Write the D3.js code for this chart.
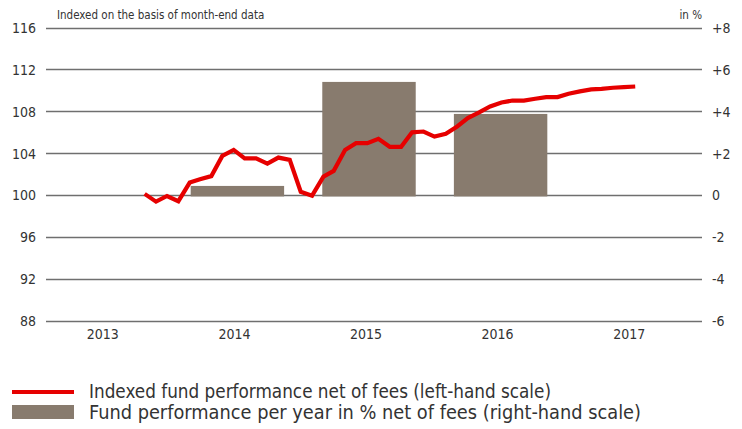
<!DOCTYPE html>
<html>
<head>
<meta charset="utf-8">
<script src="https://cdn.jsdelivr.net/npm/d3@7"></script>
<style>
  body { margin: 0; background: #fff; }
  svg text { font-family: "DejaVu Sans Condensed", "Liberation Sans Narrow", sans-serif; fill: #333; }
</style>
</head>
<body>
<script>
// month-end index values, Sep 2013 .. May 2017
var firstMonth = new Date(2013, 8, 30);
var indexValues = [
    100.1, 99.36, 99.9, 99.4, 101.18, 101.5, 101.8, 103.73, 104.3, 103.5,
    103.5, 103.0, 103.57, 103.35, 100.3, 99.93, 101.75, 102.3, 104.3, 104.95,
    104.95, 105.36, 104.6, 104.6, 105.98, 106.06, 105.58, 105.84, 106.54, 107.34,
    107.88, 108.45, 108.83, 109.02, 109.02, 109.19, 109.35, 109.35, 109.67, 109.89,
    110.08, 110.14, 110.24, 110.3, 110.36 ];

var years = ["2013", "2014", "2015", "2016", "2017"];
var barYears = ["2014", "2015", "2016"];
var barValues = [0.43, 5.4, 3.87];

var leftTicks = [88, 92, 96, 100, 104, 108, 112, 116];
var rightTicks = [-6, -4, -2, 0, 2, 4, 6, 8];

var legendLabels = [
    "Indexed fund performance net of fees (left-hand scale)",
    "Fund performance per year in % net of fees (right-hand scale)" ];

var width = 742, height = 429;
var gridLeft = 46, gridRight = 702;
var plotTop = 27.5, plotBottom = 320.5;
var legendTextWidths = [462, 552];

var svg = d3.select("body").append("svg")
    .attr("width", width)
    .attr("height", height);

var yLeft = d3.scaleLinear().domain([88, 116]).range([plotBottom, plotTop]);
var yRight = d3.scaleLinear().domain([-6, 8]).range([plotBottom, plotTop]);

var xBand = d3.scaleBand()
    .domain(years)
    .range([40, 698])
    .paddingInner(0.29)
    .paddingOuter(0.145);

var xTime = d3.scaleTime()
    .domain([new Date(2013, 0, 1), new Date(2018, 0, 1)])
    .range([45, 714]);

var monthDates = indexValues.map(function(v, i) {
    return new Date(firstMonth.getFullYear(), firstMonth.getMonth() + 1 + i, 0); });

// grid
svg.append("g").selectAll("line")
    .data(leftTicks)
    .enter().append("line")
        .attr("x1", gridLeft).attr("x2", gridRight)
        .attr("y1", function(d) { return Math.round(yLeft(d)) + 0.5; })
        .attr("y2", function(d) { return Math.round(yLeft(d)) + 0.5; })
        .attr("stroke", "#6f6f6f")
        .attr("stroke-width", 1.4);

// left axis labels
svg.append("g").selectAll("text")
    .data(leftTicks)
    .enter().append("text")
        .attr("x", 36)
        .attr("y", function(d) { return yLeft(d) + 5.5; })
        .attr("text-anchor", "end")
        .attr("font-size", 14)
        .text(function(d) { return d; });

// right axis labels
svg.append("g").selectAll("text")
    .data(rightTicks)
    .enter().append("text")
        .attr("x", 712)
        .attr("y", function(d) { return yRight(d) + 5.5; })
        .attr("text-anchor", "start")
        .attr("font-size", 14)
        .text(function(d) { return d > 0 ? "+" + d : d; });

// year labels
svg.append("g").selectAll("text")
    .data(years)
    .enter().append("text")
        .attr("x", function(d) { return xBand(d) + xBand.bandwidth() / 2 - 3; })
        .attr("y", 338.5)
        .attr("text-anchor", "middle")
        .attr("font-size", 14)
        .text(function(d) { return d; });

// bars
svg.append("g").selectAll("rect")
    .data(barValues)
    .enter().append("rect")
        .attr("x", function(d, i) { return xBand(barYears[i]); })
        .attr("width", xBand.bandwidth())
        .attr("y", function(d) { return yRight(d); })
        .attr("height", function(d) { return yRight(0) - yRight(d) + 1.5; })
        .attr("fill", "#887b6e");

// line
var line = d3.line()
    .x(function(d, i) { return xTime(monthDates[i]); })
    .y(function(d) { return yLeft(d); });

svg.append("path")
    .datum(indexValues)
    .attr("d", line)
    .attr("fill", "none")
    .attr("stroke", "#e60000")
    .attr("stroke-width", 4.2)
    .attr("stroke-linejoin", "miter");

// headings
svg.append("text")
    .attr("x", 57).attr("y", 19)
    .attr("font-size", 11.5)
    .text("Indexed on the basis of month-end data");

svg.append("text")
    .attr("x", 702).attr("y", 19)
    .attr("text-anchor", "end")
    .attr("font-size", 11.5)
    .text("in %");

// legend
var legend = svg.append("g");
legend.append("line")
    .attr("x1", 12).attr("x2", 74)
    .attr("y1", 392).attr("y2", 392)
    .attr("stroke", "#e60000")
    .attr("stroke-width", 4);
legend.append("rect")
    .attr("x", 12).attr("y", 405)
    .attr("width", 62).attr("height", 14)
    .attr("fill", "#887b6e");
legend.selectAll("text")
    .data(legendLabels)
    .enter().append("text")
        .attr("x", 89)
        .attr("y", function(d, i) { return 398 + i * 21; })
        .attr("font-size", 18.7)
        .attr("textLength", function(d, i) { return legendTextWidths[i]; })
        .attr("lengthAdjust", "spacingAndGlyphs")
        .text(function(d) { return d; });
</script>
</body>
</html>
